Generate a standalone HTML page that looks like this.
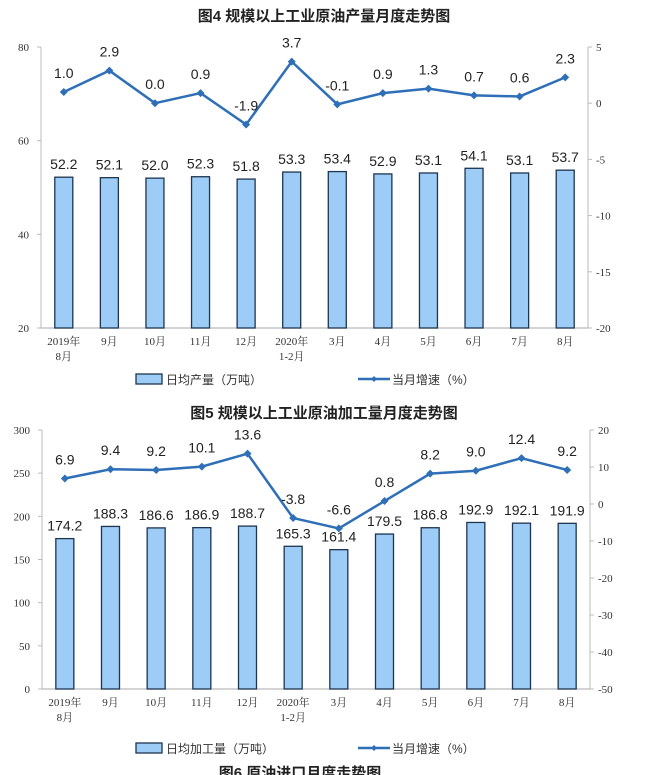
<!DOCTYPE html>
<html><head><meta charset="utf-8"><style>
body{margin:0;background:#fff;width:648px;height:775px;overflow:hidden}
svg{display:block}
.t{font-family:"Liberation Sans","Noto Sans CJK SC",sans-serif}
.ax{font-family:"Liberation Serif","Noto Serif CJK SC",serif;font-size:11px;fill:#333}
.dl{font-family:"Liberation Sans",sans-serif;font-size:14px;fill:#222}
</style></head><body>
<svg id="s" width="648" height="775" xmlns="http://www.w3.org/2000/svg"></svg>
<script>
const s=document.getElementById('s');let h='';
const cats=[['2019年','8月'],['9月'],['10月'],['11月'],['12月'],['2020年','1-2月'],['3月'],['4月'],['5月'],['6月'],['7月'],['8月']];
function chart(o){
 const {x0,x1,yt,yb,lmin,lmax,lt,rmin,rmax,rt,bars,line,title,ty,leg,ly}=o;
 const w=(x1-x0)/12;
 const yl=v=>yb-(v-lmin)/(lmax-lmin)*(yb-yt);
 const yr=v=>yb-(v-rmin)/(rmax-rmin)*(yb-yt);
 h+=`<text class="t" x="324" y="${ty}" text-anchor="middle" font-size="15" font-weight="bold" fill="#222">${title}</text>`;
 h+=`<line x1="${x0}" y1="${yt}" x2="${x0}" y2="${yb}" stroke="#bbb"/><line x1="${x1}" y1="${yt}" x2="${x1}" y2="${yb}" stroke="#bbb"/><line x1="${x0}" y1="${yb}" x2="${x1}" y2="${yb}" stroke="#aaa"/>`;
 for(const v of lt){h+=`<text class="ax" x="${x0-12}" y="${yl(v)+4}" text-anchor="end">${v}</text><line x1="${x0-4}" x2="${x0}" y1="${yl(v)}" y2="${yl(v)}" stroke="#bbb"/>`}
 for(const v of rt){h+=`<text class="ax" x="${x1+8}" y="${yr(v)+4}">${v}</text><line x1="${x1}" x2="${x1+4}" y1="${yr(v)}" y2="${yr(v)}" stroke="#bbb"/>`}
 let pts=[];
 bars.forEach((b,i)=>{const cx=x0+w*(i+.5),y=yl(b);
  h+=`<rect x="${cx-9}" y="${y}" width="18" height="${yb-y}" fill="#9dcdf7" stroke="#1d3550" stroke-width="1.3"/>`;
  h+=`<text class="dl" x="${cx}" y="${y-8}" text-anchor="middle">${b.toFixed(1)}</text>`;
  cats[i].forEach((c,j)=>h+=`<text class="ax" x="${cx}" y="${yb+17+j*15}" text-anchor="middle">${c}</text>`);
  const ly2=yr(line[i]);pts.push(cx+','+ly2);
 });
 h+=`<polyline points="${pts.join(' ')}" fill="none" stroke="#2e6fb7" stroke-width="2.5"/>`;
 line.forEach((v,i)=>{const cx=x0+w*(i+.5),y=yr(v);
  h+=`<path d="M${cx} ${y-4}L${cx+4} ${y}L${cx} ${y+4}L${cx-4} ${y}Z" fill="#2e6fb7"/>`;
  h+=`<text class="dl" x="${cx}" y="${y-14}" text-anchor="middle">${v.toFixed(1)}</text>`;
 });
 h+=`<rect x="136" y="${ly-5}" width="26" height="10" fill="#9dcdf7" stroke="#1d3550" stroke-width="1.3"/><text class="t" x="166" y="${ly+5}" font-size="12" fill="#333">${leg}</text>`;
 h+=`<line x1="358" x2="390" y1="${ly}" y2="${ly}" stroke="#2e6fb7" stroke-width="2.5"/><path d="M374 ${ly-3}L377 ${ly}L374 ${ly+3}L371 ${ly}Z" fill="#2e6fb7"/><text class="t" x="392" y="${ly+5}" font-size="12" fill="#333">当月增速（%）</text>`;
}
chart({x0:41,x1:588,yt:47,yb:328,lmin:20,lmax:80,lt:[80,60,40,20],rmin:-20,rmax:5,rt:[5,0,-5,-10,-15,-20],
 bars:[52.2,52.1,52.0,52.3,51.8,53.3,53.4,52.9,53.1,54.1,53.1,53.7],
 line:[1.0,2.9,0.0,0.9,-1.9,3.7,-0.1,0.9,1.3,0.7,0.6,2.3],title:'图4  规模以上工业原油产量月度走势图',ty:21,leg:'日均产量（万吨）',ly:379});
chart({x0:42,x1:590,yt:430,yb:689,lmin:0,lmax:300,lt:[300,250,200,150,100,50,0],rmin:-50,rmax:20,rt:[20,10,0,-10,-20,-30,-40,-50],
 bars:[174.2,188.3,186.6,186.9,188.7,165.3,161.4,179.5,186.8,192.9,192.1,191.9],
 line:[6.9,9.4,9.2,10.1,13.6,-3.8,-6.6,0.8,8.2,9.0,12.4,9.2],title:'图5  规模以上工业原油加工量月度走势图',ty:418,leg:'日均加工量（万吨）',ly:748});
h+=`<text class="t" x="300" y="778" text-anchor="middle" font-size="15" font-weight="bold" fill="#222">图6  原油进口月度走势图</text>`;
s.innerHTML=h;
</script>
</body></html>
